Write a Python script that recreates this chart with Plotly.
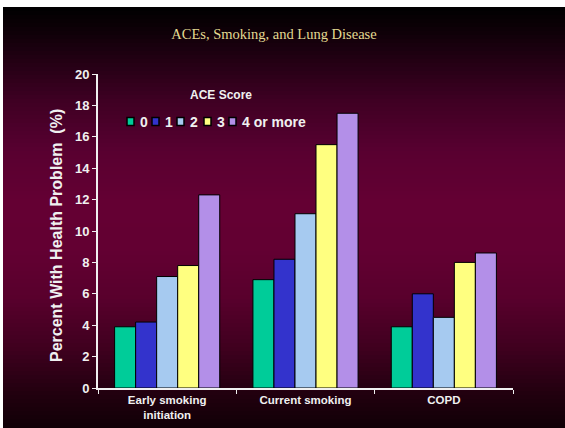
import plotly.graph_objs as go

categories = ['Early smoking<br>initiation', 'Current smoking', 'COPD']
ace_scores = ['0', '1', '2', '3', '4 or more']
values = {
    '0': [3.9, 6.9, 3.9],
    '1': [4.2, 8.2, 6.0],
    '2': [7.1, 11.1, 4.5],
    '3': [7.8, 15.5, 8.0],
    '4 or more': [12.3, 17.5, 8.6],
}
bar_colors = ['#00CC99', '#3333CC', '#A6CAF0', '#FFFF80', '#B38FE8']

W, H = 565, 428
L, R, T, B = 98, 52, 74, 40
PW, PH = W - L - R, H - T - B

# background gradient stops (pixel y, rgb)
grad = [
    (7, (0, 0, 0)),
    (25, (10, 0, 5)),
    (60, (34, 0, 19)),
    (100, (62, 0, 35)),
    (150, (88, 0, 48)),
    (200, (100, 0, 51)),
    (250, (99, 0, 50)),
    (300, (88, 0, 44)),
    (350, (62, 0, 30)),
    (390, (36, 0, 16)),
    (428, (16, 0, 6)),
]


def color_at(py):
    for (y0, c0), (y1, c1) in zip(grad[:-1], grad[1:]):
        if y0 <= py <= y1:
            t = (py - y0) / (y1 - y0)
            c = [round(a + (b - a) * t) for a, b in zip(c0, c1)]
            return f"rgb({c[0]},{c[1]},{c[2]})"
    return "rgb(16,0,6)"


def px_x(px):
    return (px - L) / PW


def px_y(py):
    return (H - B - py) / PH


shapes = []
step = 4
for py in range(7, H, step):
    shapes.append(dict(
        type='rect', xref='paper', yref='paper', layer='below',
        x0=px_x(3), x1=px_x(W + 2),
        y0=px_y(min(py + step + 1, H + 2)), y1=px_y(py),
        fillcolor=color_at(py + step / 2), line=dict(width=0),
    ))

gos = []
for idx, score in enumerate(ace_scores):
    bar_go = go.Bar(
        x=categories,
        y=values[score],
        name=score,
        marker=dict(color=bar_colors[idx], line=dict(color='#000000', width=1)),
        showlegend=False,
    )
    gos.append(bar_go)

annotations = [
    # y axis title, placed by hand
    dict(
        text='<b>Percent With Health Problem &nbsp;(%)</b>', xref='paper', yref='paper',
        x=px_x(56), y=px_y(236), xanchor='center', yanchor='middle',
        textangle=-90, showarrow=False,
        font=dict(size=16, color='#F0F0F0'),
    ),
    dict(
        text='<b>ACE Score</b>', xref='paper', yref='paper',
        x=px_x(221), y=px_y(95), xanchor='center', yanchor='middle',
        showarrow=False, font=dict(size=12, color='#F0F0F0'),
    ),
]

# hand-made legend (box + label) to get the tight spacing of the original
legend_x = [127, 152, 177, 204, 229]
legend_y = 121.5
for idx, score in enumerate(ace_scores):
    bx = legend_x[idx]
    shapes.append(dict(
        type='rect', xref='paper', yref='paper', layer='above',
        x0=px_x(bx), x1=px_x(bx + 7),
        y0=px_y(legend_y + 4), y1=px_y(legend_y - 4),
        fillcolor=bar_colors[idx], line=dict(color='#000000', width=1.5),
    ))
    annotations.append(dict(
        text=f'<b>{score}</b>', xref='paper', yref='paper',
        x=px_x(bx + 11), y=px_y(legend_y), xanchor='left', yanchor='middle',
        showarrow=False, font=dict(size=14, color='#F0F0F0'),
    ))

layout = dict(
    width=W,
    height=H,
    paper_bgcolor='white',
    plot_bgcolor='rgba(0,0,0,0)',
    shapes=shapes,
    annotations=annotations,
    barmode='group',
    bargap=0.24,
    bargroupgap=0,
    showlegend=False,
    margin=dict(l=L, r=R, t=T, b=B),
    font=dict(family='Liberation Sans, Arial', color='#F0F0F0'),
    title=dict(
        text='ACEs, Smoking, and Lung Disease',
        x=274 / W, xref='container', xanchor='center', y=1 - 34 / H, yanchor='middle',
        font=dict(family='Liberation Serif, serif', size=14.5, color='#E3DA92'),
    ),
    xaxis=dict(
        showline=True, linecolor='#F0F0F0', linewidth=2,
        ticks='outside', tickson='boundaries', ticklen=4, tickcolor='#F0F0F0',
        tickvals=categories, ticktext=[f'<b>{c}</b>' for c in categories],
        tickfont=dict(size=11.5, color='#F0F0F0'),
        showgrid=False, fixedrange=True, automargin=False,
    ),
    yaxis=dict(
        range=[0, 20],
        tickvals=list(range(0, 21, 2)),
        ticktext=[f'<b>{v}</b>' for v in range(0, 21, 2)],
        showline=True, linecolor='#F0F0F0', linewidth=2,
        ticks='outside', ticklen=4, tickcolor='#F0F0F0',
        tickfont=dict(size=13, color='#F0F0F0'),
        showgrid=False, zeroline=False, fixedrange=True, automargin=False,
    ),
)

fig = go.Figure(data=gos, layout=layout)
fig.write_html("out.html", config=dict(displayModeBar=False),
               post_script="document.body.style.margin='0';")
